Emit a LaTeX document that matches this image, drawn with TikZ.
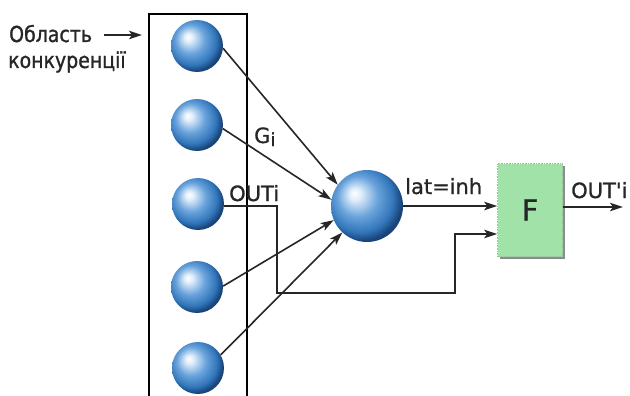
\documentclass[tikz,border=0pt]{standalone}
\usepackage{fontspec}
\setmainfont{DejaVu Sans}[FakeBold=1]
\newfontfamily\cyrfont{DejaVu Sans}[FakeBold=1.2, FakeStretch=0.86]
\usetikzlibrary{arrows.meta,shadows}
\definecolor{sphl}{RGB}{225,238,250}
\definecolor{spmid}{RGB}{105,163,220}
\definecolor{spdeep}{RGB}{50,118,186}
\definecolor{spedge}{RGB}{25,68,122}
\definecolor{fgreen}{RGB}{160,226,168}
\definecolor{txt}{RGB}{38,38,38}
% glossy blue sphere, lit from the upper left
\pgfdeclareradialshading{sphere}{\pgfpoint{-9bp}{9bp}}{%
  color(0bp)=(white); color(4bp)=(sphl); color(14bp)=(spmid);
  color(23bp)=(spdeep); color(28bp)=(spedge); color(50bp)=(spedge)}
\begin{document}
\begin{tikzpicture}[x=1pt,y=-1pt,
  ball/.style={circle, minimum size=52pt, inner sep=0pt, shading=sphere},
  bigball/.style={ball, minimum size=72pt},
  lbl/.style={font=\fontsize{21}{21}\selectfont, text=txt, inner sep=0pt},
  cyrlbl/.style={lbl, font=\cyrfont\fontsize{22}{22}\selectfont},
  wire/.style={line width=1.6pt, draw=black!85},
  arr/.style={wire, -{Stealth[length=13pt,width=8.5pt,inset=3pt]}},
  fbox/.style={rectangle, fill=fgreen, draw=fgreen!70!gray, densely dotted, line width=0.6pt,
    minimum width=65pt, minimum height=93pt, inner sep=0pt,
    font=\fontsize{29}{29}\selectfont, text=txt,
    drop shadow={shadow xshift=2pt, shadow yshift=-2pt, fill=black!45, opacity=1}},
]
\useasboundingbox (0,0) rectangle (630,396);

% frame around the competition area
\draw[line width=1.5pt] (149,397) -- (149,14) -- (247,14) -- (247,397);

% input neurons
\node[ball] (s1) at (197,46) {};
\node[ball] (s2) at (197,125) {};
\node[ball] (s3) at (198,204) {};
\node[ball] (s4) at (197,287) {};
\node[ball] (s5) at (198,368) {};

% output neuron and function block
\node[bigball] (big) at (367,206) {};
\node[fbox] (F) at (530,210) {F};

% labels
\node[cyrlbl, anchor=base west] (oblast) at (9,42) {Область};
\node[cyrlbl, anchor=base west] (konk) at (8,68) {конкуренції};
\coordinate (fs) at (104,35);
\coordinate (fr) at (142,35);
\draw[arr] (fs) -- (fr);

\node[lbl, anchor=base west] (gi) at (254,143) {G\raisebox{-3pt}{\fontsize{18}{18}\selectfont i}};
\node[lbl, anchor=base west] (outi) at (229,201) {OUTi};
\node[lbl, anchor=base west] (lat) at (405,194) {lat=inh};
\node[lbl, anchor=base west] (outp) at (571,198) {OUT\textquotesingle i};

% weighted connections
\draw[arr] (s1.-5) -- (big.144);
\draw[arr] (s2.-8) -- (big.170);
\draw[arr] (s4.2) -- (big.203);
\draw[arr] (s5.30) -- (big.227);

% direct output of the neuron i to F
\coordinate (c1) at (277,293);
\coordinate (k) at (455,234);
\draw[arr] (s3.-5) -| (c1) -| (k) -- (k -| F.west);

% inhibition signal and result
\draw[arr] (big.east) -- (big.east -| F.west);
\coordinate (o) at (623,207);
\draw[arr] (o -| F.east) -- (o);
\end{tikzpicture}
\end{document}
